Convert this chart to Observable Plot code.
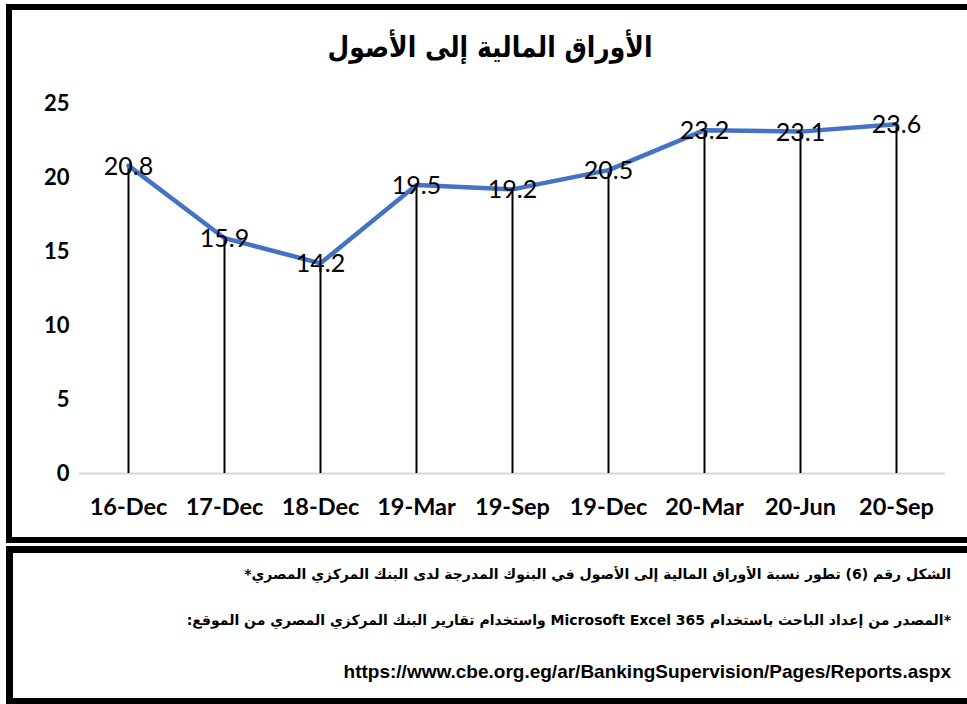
<!DOCTYPE html>
<html>
<head>
<meta charset="utf-8">
<script src="https://cdn.jsdelivr.net/npm/d3@7"></script>
<script src="https://cdn.jsdelivr.net/npm/@observablehq/plot@0.6"></script>
<style>
  html, body { margin: 0; padding: 0; background: #fff; }
  #page { position: relative; width: 967px; height: 704px; overflow: hidden; }
  #chartbox { position: absolute; left: 6px; top: 4px; width: 980px; height: 527px; border: 6px solid #000; box-sizing: content-box; }
  #captionbox { position: absolute; left: 6px; top: 546px; width: 980px; height: 145px; border: 7px solid #000; }
  #title { position: absolute; left: 0; top: 33px; width: 980px; text-align: center; font-family: "DejaVu Sans", sans-serif; font-weight: bold; font-size: 25px; direction: rtl; transform: scaleY(1.15); }
  #plot { position: absolute; left: 0; top: 0; }
  .cap { position: absolute; right: 16px; font-family: "DejaVu Sans", sans-serif; font-weight: bold; font-size: 14px; direction: rtl; text-align: right; white-space: nowrap; }
  .url { font-family: "Liberation Sans", Arial, sans-serif; font-size: 19px; direction: ltr; }
</style>
</head>
<body>
<div id="page">
  <div id="chartbox"></div>
  <div id="captionbox"></div>
  <div id="title"></div>
  <div id="plot"></div>
  <div class="cap" id="cap1" style="top:566px"></div>
  <div class="cap" id="cap2" style="top:612px"></div>
  <div class="cap url" id="cap3" style="top:661px"></div>
</div>
<script>
const categories = ["16-Dec", "17-Dec", "18-Dec", "19-Mar", "19-Sep", "19-Dec", "20-Mar", "20-Jun", "20-Sep"];
const values = [20.8, 15.9, 14.2, 19.5, 19.2, 20.5, 23.2, 23.1, 23.6];
const yTicks = [0, 5, 10, 15, 20, 25];
const titleText = "الأوراق المالية إلى الأصول";
const caption1 = "الشكل رقم (6) تطور نسبة الأوراق المالية إلى الأصول  في البنوك المدرجة لدى البنك المركزي المصري*";
const caption2 = "*المصدر من إعداد الباحث باستخدام Microsoft Excel 365 واستخدام تقارير البنك المركزي المصري من الموقع:";
const caption3 = "https://www.cbe.org.eg/ar/BankingSupervision/Pages/Reports.aspx";

document.getElementById("title").textContent = titleText;
document.getElementById("cap1").textContent = caption1;
document.getElementById("cap2").textContent = caption2;
document.getElementById("cap3").textContent = caption3;

const data = categories.map((c, i) => ({cat: c, value: values[i]}));

const chart = Plot.plot({
  width: 967,
  height: 530,
  marginLeft: 79,
  marginRight: 22,
  marginTop: 103,
  marginBottom: 57,
  style: {fontFamily: "Lato, sans-serif", background: "transparent", color: "#000"},
  x: {type: "point", domain: categories, padding: 0.5},
  y: {domain: [0, 25]},
  marks: [
    Plot.ruleY([0], {stroke: "#d9d9d9", strokeWidth: 2}),
    Plot.ruleX(data, {x: "cat", y1: 0, y2: "value", stroke: "#000", strokeWidth: 2}),
    Plot.line(data, {x: "cat", y: "value", stroke: "#4472C4", strokeWidth: 4.5, strokeLinejoin: "round", strokeLinecap: "round"}),
    Plot.text(data, {x: "cat", y: "value", text: d => d.value.toFixed(1), fontSize: 25, fill: "#000", dy: 1}),
    Plot.axisY({ticks: yTicks, tickSize: 0, tickPadding: 10, fontSize: 22, fontWeight: "bold", label: null}),
    Plot.axisX({tickSize: 0, tickPadding: 25, fontSize: 23.5, fontWeight: "bold", label: null})
  ]
});
document.getElementById("plot").appendChild(chart);
</script>
</body>
</html>
